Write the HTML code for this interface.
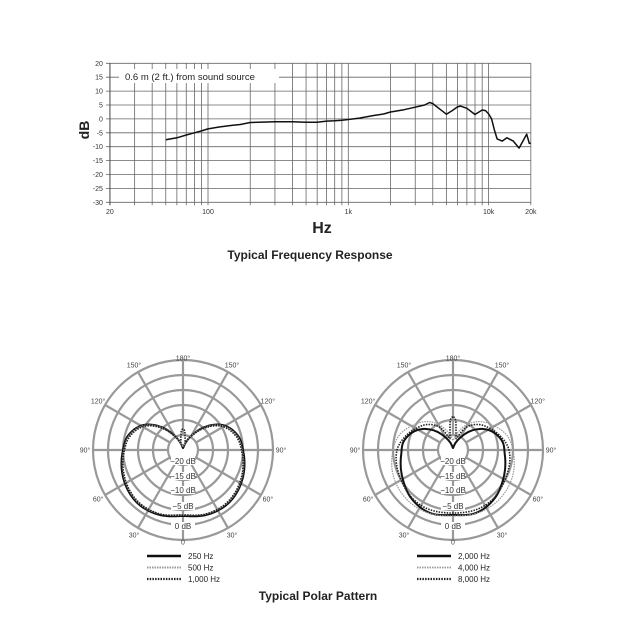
<!DOCTYPE html>
<html><head><meta charset="utf-8"><style>
html,body{margin:0;padding:0;background:#fff;}
svg{display:block;font-family:"Liberation Sans",sans-serif;}
</style></head><body>
<svg id="s" width="630" height="630" viewBox="0 0 630 630" xmlns="http://www.w3.org/2000/svg">
<rect width="630" height="630" fill="#fff"/>
<g id="fr"></g>
<g id="p1"></g>
<g id="p2"></g>
<text x="322" y="233" font-size="16" font-weight="bold" text-anchor="middle" fill="#222">Hz</text>
<text x="310" y="259" font-size="12" font-weight="bold" text-anchor="middle" fill="#222">Typical Frequency Response</text>
<text x="318" y="600" font-size="12" font-weight="bold" text-anchor="middle" fill="#222">Typical Polar Pattern</text>
<text transform="translate(89,130) rotate(-90)" font-size="14" font-weight="bold" text-anchor="middle" fill="#222">dB</text>
</svg>
<script>
var NS="http://www.w3.org/2000/svg";
function el(p,t,a,txt){var e=document.createElementNS(NS,t);for(var k in a)e.setAttribute(k,a[k]);if(txt!==undefined)e.textContent=txt;p.appendChild(e);return e;}
var fr=document.getElementById('fr');
var X0=208,DEC=140.3,Y0=118.9,DY=2.78;
function fx(f){return X0+DEC*Math.log10(f/100);}
function fy(d){return Y0-d*DY;}
var L=fx(20),R=fx(20000);
for(var d=-30;d<=20;d+=5){el(fr,'line',{x1:L-4,x2:R,y1:fy(d),y2:fy(d),stroke:'#666','stroke-width':0.8});
 el(fr,'text',{x:L-7,y:fy(d)+2.5,'font-size':7,'text-anchor':'end',fill:'#333'},String(d));}
var fs=[];[10,100,1000].forEach(function(b){for(var i=1;i<10;i++){var f=b*i;if(f>20&&f<20000)fs.push(f);}});fs.push(10000);
fs.forEach(function(f){el(fr,'line',{x1:fx(f),x2:fx(f),y1:fy(20),y2:fy(-30)+3,stroke:'#666','stroke-width':0.8});});
el(fr,'line',{x1:L,x2:L,y1:fy(20),y2:fy(-30)+3,stroke:'#444','stroke-width':1});
el(fr,'line',{x1:R,x2:R,y1:fy(20),y2:fy(-30)+3,stroke:'#666','stroke-width':0.8});
[[20,'20'],[100,'100'],[1000,'1k'],[10000,'10k'],[20000,'20k']].forEach(function(a){el(fr,'text',{x:fx(a[0]),y:214,'font-size':7,'text-anchor':'middle',fill:'#333'},a[1]);});
el(fr,'rect',{x:119,y:69,width:160,height:14,fill:'#fff'});
el(fr,'text',{x:125,y:80,'font-size':9.5,fill:'#222'},'0.6 m (2 ft.) from sound source');
var data=[[50,-7.5],[60,-6.8],[70,-5.8],[80,-5],[90,-4.3],[100,-3.6],[120,-2.9],[150,-2.3],[170,-2],[190,-1.5],[200,-1.3],[300,-1],[400,-1],[500,-1.2],[600,-1.2],[700,-0.8],[800,-0.7],[900,-0.5],[1000,-0.2],[1200,0.3],[1500,1.2],[1800,1.8],[2000,2.5],[2500,3.3],[3000,4.2],[3500,5],[3800,5.9],[4000,5.5],[4500,3.5],[5000,1.7],[5500,3],[6000,4.3],[6300,4.6],[7000,3.8],[8000,1.6],[9000,3.2],[9500,3],[10000,1.8],[10500,0],[11000,-4],[11500,-7.2],[12500,-8],[13500,-6.8],[15000,-8],[16500,-10.5],[18000,-7],[18700,-5.5],[19500,-8.8],[20000,-8.8]];
el(fr,'polyline',{points:data.map(function(p){return fx(p[0]).toFixed(1)+','+fy(p[1]).toFixed(1);}).join(' '),fill:'none',stroke:'#111','stroke-width':1.5,'stroke-linejoin':'round'});
// Catmull-Rom interpolation of r vs angle (symmetric)
function interp(t,a){var th=Math.abs(t);var n=a.length;
 for(var i=0;i<n-1;i++){if(th>=a[i][0]&&th<=a[i+1][0]){
  var p0=i>0?a[i-1]:[-a[1][0],a[1][1]],p1=a[i],p2=a[i+1],p3=i+2<n?a[i+2]:[360-a[n-2][0],a[n-2][1]];
  var u=(th-p1[0])/(p2[0]-p1[0]);
  var m1=(p2[1]-p0[1])/(p2[0]-p0[0])*(p2[0]-p1[0]),m2=(p3[1]-p1[1])/(p3[0]-p1[0])*(p2[0]-p1[0]);
  var u2=u*u,u3=u2*u;
  return Math.max(0,(2*u3-3*u2+1)*p1[1]+(u3-2*u2+u)*m1+(-2*u3+3*u2)*p2[1]+(u3-u2)*m2);}}
 return a[n-1][1];}
function polar(g,cx,cy,curves,legend){
 var rs=[15,30,45,60,75,90];
 rs.forEach(function(r){el(g,'circle',{cx:cx,cy:cy,r:r,fill:'none',stroke:'#999','stroke-width':2.2});});
 for(var a=0;a<360;a+=30){var t=a*Math.PI/180;el(g,'line',{x1:cx+15*Math.sin(t),y1:cy+15*Math.cos(t),x2:cx+90*Math.sin(t),y2:cy+90*Math.cos(t),stroke:'#999','stroke-width':2.2});}
 var lab=[[0,'180°'],[30,'150°'],[60,'120°'],[90,'90°'],[120,'60°'],[150,'30°'],[180,'0']];
 lab.forEach(function(l){var t=l[0]*Math.PI/180,r=(l[0]==0||l[0]==180)?92:98;
  [1,-1].forEach(function(s){if(s<0&&(l[0]==0||l[0]==180))return;
   el(g,'text',{x:cx+s*r*Math.sin(t),y:cy-r*Math.cos(t)+2.5,'font-size':7,'text-anchor':'middle',fill:'#444'},l[1]);});});
 [['0 dB',76],['−5 dB',56],['−10 dB',40],['−15 dB',26],['−20 dB',11]].forEach(function(l){var y=cy+l[1];el(g,'rect',{x:cx-12,y:y-4,width:24,height:8,fill:'#fff'});el(g,'text',{x:cx,y:y+3,'font-size':8,'text-anchor':'middle',fill:'#333'},l[0]);});
 curves.forEach(function(c){var pts=[];for(var a=-180;a<=180;a+=1){var r=interp(a,c.t),t=a*Math.PI/180;pts.push((cx+r*Math.sin(t)).toFixed(1)+','+(cy+r*Math.cos(t)).toFixed(1));}
  var o={points:pts.join(' '),fill:'none',stroke:c.c,'stroke-width':c.w,'stroke-linejoin':'round'};if(c.d)o['stroke-dasharray']=c.d;el(g,'polygon',o);});
 legend.forEach(function(l,i){var y=cy+106+i*11.5;var o={x1:cx-36,x2:cx-2,y1:y,y2:y,stroke:curves[i].c,'stroke-width':curves[i].w+0.6};if(curves[i].d)o['stroke-dasharray']=curves[i].d;el(g,'line',o);el(g,'text',{x:cx+5,y:y+3,'font-size':8,fill:'#222'},l);});
}
var c250=[[0,66],[20,69],[40,70],[60,67],[90,60],[104,57],[122,47],[138,30],[150,16],[165,5],[180,2]];
var c500=[[0,65],[20,68],[40,69],[60,66],[90,59],[104,56],[122,46],[138,29],[150,16],[165,6],[180,4]];
var c1k=[[0,65],[20,68],[40,68.5],[60,65.5],[90,58.5],[104,55],[122,45],[138,28],[150,15],[163,8],[170,12],[175,19],[180,21]];
var c2k=[[0,65],[20,67],[40,64],[60,58],[85,52],[100,50],[119,41],[135,28],[150,14],[168,4],[180,2]];
var c4k=[[0,66],[30,68],[60,66],[90,60],[105,56],[120,48],[135,40],[150,30],[165,18],[180,10]];
var c8k=[[0,63],[30,64],[60,60],[90,56],[105,50],[120,43],[135,36],[150,26],[163,12],[170,17],[175,30],[180,33]];
polar(document.getElementById('p1'),183,450,[{t:c250,c:'#111',w:2},{t:c500,c:'#999',w:1.5,d:'1.5,1'},{t:c1k,c:'#222',w:1.6,d:'1.5,1.2'}],['250 Hz','500 Hz','1,000 Hz']);
polar(document.getElementById('p2'),453,450,[{t:c2k,c:'#111',w:2},{t:c4k,c:'#999',w:1.2,d:'1.5,1'},{t:c8k,c:'#222',w:1.6,d:'1.5,1.2'}],['2,000 Hz','4,000 Hz','8,000 Hz']);
</script>
</body></html>
